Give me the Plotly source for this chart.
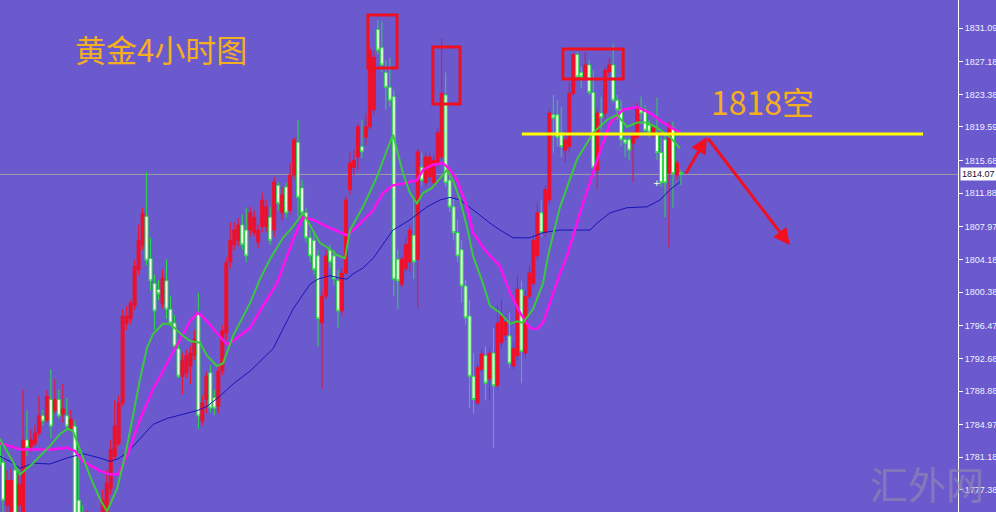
import plotly.graph_objects as go

# ---------------- data ----------------
bar_index = list(range(172))

open_ = [
    1782.6, 1780.6, 1775.6, 1773.9, 1779.7, 1775.6, 1774.8, 1783.2, 1782.4, 1782.8,
    1784.0, 1786.0, 1785.5, 1787.9, 1786.6, 1787.9, 1786.2, 1786.0, 1784.5, 1784.8,
    1776.2, 1773.9, 1772.7, 1773.7, 1772.1, 1773.3, 1772.5, 1774.8, 1777.5, 1781.3,
    1782.8, 1787.5, 1796.8, 1797.3, 1798.8, 1803.0, 1805.9, 1809.2, 1804.3, 1801.4,
    1800.7, 1799.1, 1801.7, 1798.4, 1796.8, 1793.8, 1790.6, 1791.0, 1791.8, 1793.0,
    1797.8, 1785.4, 1787.9, 1791.0, 1788.1, 1787.1, 1791.2, 1795.6, 1803.9, 1805.9,
    1806.4, 1808.2, 1807.6, 1807.6, 1807.3, 1806.2, 1808.0, 1808.0, 1809.1, 1807.6,
    1812.8, 1809.6, 1812.6, 1809.9, 1814.0, 1817.8, 1812.5, 1809.6, 1806.7, 1806.4,
    1804.6, 1796.8, 1799.9, 1805.3, 1804.6, 1801.7, 1798.2, 1802.6, 1812.3, 1814.9,
    1816.1, 1817.3, 1818.4, 1819.6, 1821.6, 1830.9, 1828.8, 1825.9, 1824.2, 1823.1,
    1804.2, 1801.3, 1803.1, 1803.9, 1807.0, 1804.2, 1814.9, 1813.1, 1813.8, 1813.1,
    1815.4, 1816.1, 1823.3, 1813.4, 1810.3, 1807.3, 1805.3, 1801.1, 1797.6, 1790.6,
    1787.5, 1791.4, 1793.0, 1790.3, 1793.3, 1789.5, 1794.5, 1795.4, 1795.3, 1791.8,
    1793.0, 1800.7, 1793.3, 1799.9, 1801.4, 1804.6, 1809.6, 1807.3, 1811.1, 1821.0,
    1821.0, 1818.9, 1816.9, 1817.3, 1823.5, 1828.0, 1825.9, 1825.4, 1826.8, 1823.6,
    1814.6, 1821.2, 1821.2, 1826.0, 1826.8, 1822.7, 1821.6, 1818.1, 1818.1, 1817.7,
    1818.4, 1821.8, 1821.6, 1819.8, 1818.9, 1818.9, 1816.6, 1818.1, 1814.2, 1819.5,
    1814.0, 1814.3,
]

close = [
    1780.3, 1776.2, 1778.5, 1778.5, 1774.5, 1778.0, 1783.2, 1782.3, 1783.2, 1784.0,
    1786.0, 1785.4, 1788.3, 1784.8, 1787.9, 1786.0, 1786.8, 1784.8, 1785.6, 1773.9,
    1773.9, 1772.7, 1773.7, 1772.1, 1773.3, 1772.5, 1776.2, 1778.2, 1782.1, 1784.8,
    1787.5, 1797.6, 1797.6, 1799.1, 1803.4, 1806.4, 1809.5, 1804.1, 1801.7, 1798.2,
    1800.2, 1802.0, 1798.4, 1796.8, 1794.1, 1790.6, 1792.4, 1793.0, 1793.3, 1794.9,
    1786.0, 1787.5, 1790.6, 1786.9, 1786.9, 1791.2, 1795.9, 1803.8, 1806.4, 1807.6,
    1808.2, 1805.9, 1804.6, 1809.6, 1809.1, 1807.6, 1811.1, 1810.3, 1806.4, 1813.2,
    1810.7, 1811.7, 1809.6, 1814.0, 1818.1, 1811.4, 1809.6, 1806.7, 1804.6, 1803.0,
    1797.3, 1799.9, 1804.6, 1803.9, 1801.9, 1798.2, 1802.6, 1811.1, 1815.4, 1815.7,
    1819.6, 1816.7, 1819.6, 1828.5, 1827.7, 1828.5, 1826.8, 1824.2, 1822.7, 1801.9,
    1801.7, 1804.2, 1805.9, 1807.6, 1803.9, 1816.7, 1813.4, 1816.1, 1816.1, 1815.7,
    1818.9, 1823.5, 1813.1, 1810.3, 1807.3, 1804.6, 1801.1, 1797.4, 1790.6, 1787.9,
    1791.6, 1793.2, 1789.8, 1793.3, 1789.5, 1796.8, 1797.6, 1796.9, 1792.1, 1793.8,
    1800.7, 1793.5, 1799.9, 1802.6, 1806.4, 1809.6, 1807.3, 1812.3, 1821.2, 1820.6,
    1818.4, 1817.3, 1818.1, 1823.5, 1828.0, 1825.4, 1825.4, 1826.8, 1823.6, 1814.9,
    1821.2, 1820.7, 1826.2, 1826.8, 1822.7, 1821.6, 1818.1, 1817.7, 1816.9, 1818.9,
    1821.9, 1821.2, 1819.2, 1819.0, 1819.5, 1816.6, 1813.1, 1813.1, 1819.8, 1814.2,
    1815.4, 1814.1,
]

high = [
    1783.4, 1781.4, 1779.7, 1779.9, 1780.3, 1779.1, 1789.1, 1786.6, 1784.4, 1784.9,
    1788.3, 1786.7, 1789.0, 1791.4, 1790.3, 1789.0, 1789.7, 1788.1, 1786.7, 1785.5,
    1782.1, 1775.6, 1775.0, 1774.5, 1774.8, 1774.5, 1777.4, 1779.7, 1783.2, 1787.8,
    1788.4, 1798.4, 1798.8, 1799.5, 1804.1, 1808.2, 1810.2, 1814.4, 1806.7, 1802.4,
    1801.8, 1803.0, 1804.2, 1799.9, 1797.7, 1794.9, 1793.3, 1793.7, 1794.1, 1796.0,
    1800.3, 1788.4, 1791.1, 1791.9, 1789.0, 1791.8, 1796.6, 1804.4, 1808.5, 1808.5,
    1809.0, 1809.4, 1810.2, 1810.3, 1809.9, 1808.2, 1812.0, 1811.1, 1810.3, 1813.8,
    1813.2, 1812.6, 1813.1, 1815.4, 1818.4, 1820.4, 1813.4, 1810.2, 1807.6, 1807.3,
    1805.3, 1800.6, 1805.3, 1805.9, 1805.3, 1803.0, 1803.2, 1811.6, 1816.6, 1816.9,
    1820.0, 1820.4, 1821.2, 1828.9, 1828.5, 1832.0, 1831.8, 1827.4, 1827.6, 1823.9,
    1805.3, 1804.6, 1806.7, 1808.2, 1811.1, 1817.1, 1816.6, 1816.6, 1816.6, 1816.3,
    1819.5, 1829.9, 1825.9, 1814.4, 1811.3, 1808.8, 1806.4, 1801.8, 1799.5, 1793.3,
    1792.0, 1793.7, 1794.1, 1793.9, 1796.2, 1798.8, 1799.5, 1797.7, 1798.0, 1794.5,
    1802.3, 1801.7, 1800.6, 1803.5, 1807.0, 1810.7, 1811.1, 1812.8, 1821.6, 1823.3,
    1822.7, 1821.9, 1819.2, 1824.7, 1828.2, 1828.3, 1826.6, 1828.3, 1827.4, 1826.2,
    1821.8, 1823.1, 1826.6, 1827.6, 1829.3, 1823.3, 1822.7, 1818.4, 1818.4, 1819.0,
    1822.4, 1823.1, 1822.1, 1820.4, 1819.8, 1823.0, 1818.4, 1818.9, 1820.2, 1820.2,
    1815.7, 1814.6,
]

low = [
    1779.1, 1773.9, 1774.5, 1773.3, 1773.3, 1774.8, 1774.5, 1781.3, 1781.8, 1782.4,
    1783.6, 1784.9, 1785.2, 1783.4, 1786.3, 1785.7, 1785.2, 1784.4, 1784.2, 1773.3,
    1772.9, 1771.6, 1771.6, 1771.0, 1771.0, 1771.6, 1771.8, 1774.1, 1776.8, 1780.9,
    1782.5, 1787.1, 1796.0, 1796.6, 1798.3, 1802.4, 1805.3, 1803.5, 1800.6, 1796.0,
    1799.5, 1798.5, 1797.3, 1796.4, 1793.7, 1790.4, 1788.5, 1790.4, 1789.7, 1792.5,
    1784.5, 1784.9, 1786.3, 1786.4, 1786.1, 1786.3, 1790.7, 1794.8, 1803.2, 1805.3,
    1805.7, 1805.3, 1803.9, 1806.8, 1806.9, 1805.5, 1807.3, 1807.4, 1805.9, 1806.8,
    1809.9, 1808.8, 1809.0, 1809.4, 1813.6, 1809.1, 1809.1, 1806.2, 1803.9, 1802.4,
    1794.1, 1789.1, 1799.5, 1803.2, 1801.2, 1796.2, 1797.7, 1802.4, 1811.7, 1814.0,
    1814.6, 1816.0, 1817.5, 1819.2, 1821.0, 1828.0, 1825.9, 1821.6, 1821.9, 1799.9,
    1798.4, 1800.9, 1802.7, 1802.8, 1801.9, 1798.5, 1812.8, 1812.6, 1813.2, 1812.5,
    1814.9, 1815.7, 1812.6, 1809.7, 1806.4, 1803.9, 1799.1, 1796.6, 1786.9, 1786.3,
    1787.2, 1791.1, 1787.8, 1787.8, 1782.3, 1789.0, 1793.9, 1794.8, 1791.6, 1791.4,
    1792.5, 1789.8, 1792.7, 1799.5, 1801.0, 1804.1, 1806.8, 1806.8, 1810.5, 1816.6,
    1817.3, 1816.1, 1815.5, 1816.6, 1823.1, 1825.1, 1824.1, 1825.1, 1823.3, 1814.6,
    1812.3, 1819.2, 1820.6, 1825.6, 1822.4, 1820.4, 1817.3, 1816.1, 1815.7, 1813.2,
    1818.1, 1820.4, 1818.7, 1818.4, 1818.3, 1815.7, 1812.6, 1809.1, 1805.6, 1810.2,
    1813.4, 1812.8,
]

# short moving average (green)
ma_fast_x = [0.25, 2.76, 5.27, 8.53, 12.79, 15.30, 17.30, 18.56, 20.31, 22.82, 25.33, 27.08,
             29.59, 31.59, 33.60, 35.36, 37.11, 38.62, 41.12, 42.88, 45.39, 47.89, 50.40,
             52.16, 54.66, 56.17, 58.68, 62.94, 65.45, 67.95, 71.21, 73.72, 76.23, 78.74,
             80.49, 82.25, 84.75, 86.76, 88.01, 91.27, 94.78, 97.29, 98.80, 99.80, 101.30,
             103.06, 104.81, 106.32, 108.57, 110.58, 112.34, 113.84, 115.60, 117.35,
             118.86, 121.36, 123.12, 125.63, 128.13, 129.89, 131.39, 133.90, 136.41,
             137.66, 140.67, 144.93, 148.95, 152.46, 154.96, 157.47, 159.98, 162.49,
             164.99, 168.25, 170.76]
ma_fast_y = [1783.3, 1781.3, 1779.2, 1780.5, 1782.5, 1783.9, 1784.5, 1784.2, 1782.1, 1779.0,
             1776.3, 1774.9, 1777.5, 1781.3, 1786.0, 1790.3, 1793.9, 1795.5, 1796.7, 1796.7,
             1795.6, 1794.7, 1794.5, 1793.0, 1791.8, 1792.1, 1795.3, 1799.1, 1801.9, 1804.2,
             1806.7, 1808.0, 1809.6, 1807.6, 1806.1, 1805.6, 1804.7, 1804.3, 1807.6, 1810.3,
             1813.8, 1816.9, 1818.7, 1816.9, 1814.2, 1811.9, 1810.7, 1811.9, 1812.5, 1813.6,
             1814.6, 1813.4, 1811.1, 1808.0, 1804.6, 1801.4, 1798.8, 1798.0, 1796.7, 1797.0,
             1796.8, 1798.4, 1801.4, 1804.6, 1810.3, 1815.8, 1818.9, 1820.4, 1821.0, 1819.6,
             1820.1, 1820.1, 1819.5, 1818.4, 1817.1]

# medium moving average (magenta)
ma_mid_x = [0.25, 2.76, 5.27, 8.53, 12.79, 17.05, 19.06, 21.06, 25.33, 27.83, 29.84, 32.10,
            35.36, 38.62, 42.13, 45.39, 47.89, 49.90, 52.16, 54.66, 57.17, 58.68, 62.94,
            66.20, 69.71, 72.22, 74.22, 76.23, 78.74, 82.25, 85.51, 87.26, 89.77, 93.78,
            96.29, 98.80, 102.31, 104.81, 106.32, 108.83, 111.33, 113.09, 114.84, 117.35,
            118.86, 121.36, 123.12, 125.63, 128.13, 130.64, 133.15, 134.90, 136.41, 138.16,
            140.67, 142.43, 145.68, 149.95, 153.21, 156.47, 159.98, 163.24, 166.50, 170.76]
ma_mid_y = [1782.8, 1782.5, 1782.1, 1782.1, 1782.1, 1782.3, 1781.9, 1780.7, 1779.6, 1779.2,
            1779.2, 1781.3, 1785.6, 1789.1, 1792.1, 1794.9, 1797.0, 1798.0, 1797.0, 1795.6,
            1794.3, 1794.7, 1796.2, 1798.8, 1801.4, 1804.6, 1807.0, 1809.1, 1808.8, 1808.0,
            1807.3, 1807.0, 1808.0, 1809.9, 1811.9, 1812.8, 1813.1, 1813.4, 1814.6, 1815.2,
            1815.4, 1814.6, 1813.4, 1810.3, 1807.3, 1805.6, 1804.6, 1803.4, 1800.3, 1798.0,
            1796.2, 1796.1, 1796.8, 1799.1, 1802.6, 1804.6, 1809.6, 1815.7, 1820.0, 1821.6,
            1821.9, 1821.2, 1820.1, 1818.9]

# long moving average (blue)
ma_slow_x = [0.25, 2.76, 5.27, 8.53, 12.79, 17.05, 21.06, 25.33, 27.83, 29.84, 32.10, 35.36,
             38.62, 42.13, 46.14, 49.65, 52.16, 55.42, 58.68, 62.94, 68.71, 73.72, 77.98,
             79.99, 83.00, 85.51, 87.26, 88.77, 91.27, 93.78, 98.80, 103.06, 107.32, 110.58,
             113.09, 115.60, 119.86, 123.12, 125.63, 128.89, 133.15, 136.41, 140.67, 148.19,
             149.95, 153.21, 157.47, 162.49, 165.75, 168.25, 170.76]
ma_slow_y = [1781.3, 1780.7, 1779.9, 1780.5, 1780.4, 1781.1, 1781.6, 1781.1, 1780.7, 1781.0,
             1781.7, 1783.4, 1785.0, 1785.7, 1786.2, 1786.6, 1787.1, 1788.3, 1789.7, 1791.2,
             1793.8, 1798.4, 1801.3, 1801.9, 1802.3, 1802.0, 1801.9, 1802.5, 1803.2, 1804.3,
             1807.6, 1808.8, 1810.3, 1811.1, 1811.4, 1811.1, 1809.6, 1808.4, 1807.6, 1806.7,
             1806.7, 1807.3, 1807.6, 1807.6, 1808.4, 1809.6, 1810.2, 1810.3, 1811.1, 1812.3,
             1813.2]

axis_ticks = [1831.09, 1827.18, 1823.38, 1819.59, 1815.68, 1811.88, 1807.97, 1804.18,
              1800.38, 1796.47, 1792.68, 1788.88, 1784.97, 1781.18, 1777.38]
axis_tick_text = ["1831.09", "1827.18", "1823.38", "1819.59", "1815.68", "1811.88", "1807.97",
                  "1804.18", "1800.38", "1796.47", "1792.68", "1788.88", "1784.97", "1781.18",
                  "1777.38"]
last_price = 1814.07
short_level = 1818.77

# annotation boxes (bar index, price)
box_x0 = [92.5, 108.8, 141.4]
box_x1 = [99.8, 115.6, 156.5]
box_y0 = [1826.44, 1822.26, 1825.16]
box_y1 = [1832.61, 1828.88, 1828.65]
level_x = [131.1, 231.7]
arrow_x = [172.0, 177.5, 198.3]
arrow_y = [1814.0, 1818.42, 1805.86]

# ---------------- styling ----------------
BG = "#6A5ACD"
RED = "#F0102A"
GREEN = "#2ED84A"
GOLD = "#F5AE1E"
CJK = "Noto Sans CJK SC"

fig = go.Figure()

fig.add_trace(go.Candlestick(
    x=bar_index, open=open_, high=high, low=low, close=close,
    increasing=dict(line=dict(color=RED, width=1), fillcolor=RED),
    decreasing=dict(line=dict(color=GREEN, width=1), fillcolor="#F2FFE8"),
    whiskerwidth=0, hoverinfo="skip", showlegend=False,
))

fig.add_trace(go.Scatter(x=ma_slow_x, y=ma_slow_y, mode="lines",
                         line=dict(color="#1A14B8", width=1), hoverinfo="skip"))
fig.add_trace(go.Scatter(x=ma_mid_x, y=ma_mid_y, mode="lines",
                         line=dict(color="#FF10F0", width=2.5), hoverinfo="skip"))
fig.add_trace(go.Scatter(x=ma_fast_x, y=ma_fast_y, mode="lines",
                         line=dict(color="#3CC83C", width=2), hoverinfo="skip"))

shapes = []
shapes.append(dict(type="line", xref="paper", x0=0, x1=1, yref="y", y0=last_price, y1=last_price,
                   line=dict(color="rgba(165,165,165,0.9)", width=1), layer="below"))
for a, b, c, d in zip(box_x0, box_x1, box_y0, box_y1):
    shapes.append(dict(type="rect", xref="x", yref="y", x0=a, x1=b, y0=c, y1=d,
                       line=dict(color="#F01020", width=3), fillcolor="rgba(0,0,0,0)"))
shapes.append(dict(type="line", xref="x", yref="y", x0=level_x[0], x1=level_x[1],
                   y0=short_level, y1=short_level, line=dict(color="#FFFF00", width=3)))

annotations = []
annotations.append(dict(xref="paper", yref="paper", x=161 / 958, y=1 - 48 / 512,
                        xanchor="center", yanchor="middle",
                        text="黄金4小时图", showarrow=False,
                        font=dict(family=CJK, size=31, color=GOLD)))
annotations.append(dict(xref="paper", yref="paper", x=762 / 958, y=1 - 101 / 512,
                        xanchor="center", yanchor="middle",
                        text="1818空", showarrow=False,
                        font=dict(family=CJK, size=32, color=GOLD)))
annotations.append(dict(xref="x", yref="y", x=arrow_x[1], y=arrow_y[1], ax=arrow_x[0], ay=arrow_y[0],
                        axref="x", ayref="y", text="", showarrow=True, arrowhead=2,
                        arrowsize=1.1, arrowwidth=3, arrowcolor="#F01020"))
annotations.append(dict(xref="x", yref="y", x=arrow_x[2], y=arrow_y[2], ax=arrow_x[1], ay=arrow_y[1],
                        axref="x", ayref="y", text="", showarrow=True, arrowhead=2,
                        arrowsize=1.1, arrowwidth=3, arrowcolor="#F01020"))
annotations.append(dict(xref="x", yref="y", x=165.0, y=1813.07, text="+", showarrow=False,
                        font=dict(family="DejaVu Sans", size=9, color="#FFFFE0")))
annotations.append(dict(xref="paper", yref="y", x=1, xanchor="left", xshift=2, y=last_price,
                        yanchor="middle",
                        text="1814.07", showarrow=False, bgcolor="#FFFFFF", borderpad=1,
                        font=dict(family="Liberation Sans", size=9, color="#101030")))
annotations.append(dict(xref="paper", yref="paper", x=927 / 958, y=1 - 482 / 512,
                        xanchor="center", yanchor="middle",
                        text="汇外网", showarrow=False,
                        font=dict(family=CJK, size=38, color="rgba(145,135,180,0.7)")))

fig.update_layout(
    width=996, height=512,
    margin=dict(l=0, r=38, t=0, b=0, pad=0, autoexpand=False),
    paper_bgcolor=BG, plot_bgcolor=BG,
    showlegend=False,
    boxgap=0.25, boxgroupgap=0,
    shapes=shapes, annotations=annotations,
    xaxis=dict(range=[0.25, 240.47], showgrid=False, zeroline=False, showticklabels=False,
               showline=False, ticks="", rangeslider=dict(visible=False), fixedrange=True,
               automargin=False),
    yaxis=dict(range=[1774.82, 1834.35], side="right", showgrid=False, zeroline=False,
               tickvals=axis_ticks, ticktext=axis_tick_text, ticks="outside", ticklen=4,
               tickcolor="#FFFFFF", showline=True, linecolor="#FFFFFF", linewidth=1,
               tickfont=dict(family="Liberation Sans", size=9, color="#F0F0FF"),
               fixedrange=True, automargin=False),
)

fig.write_html("out.html", config={"displayModeBar": False},
               post_script="document.body.style.margin='0';document.body.style.padding='0';"
                           "document.body.style.overflow='hidden';")
